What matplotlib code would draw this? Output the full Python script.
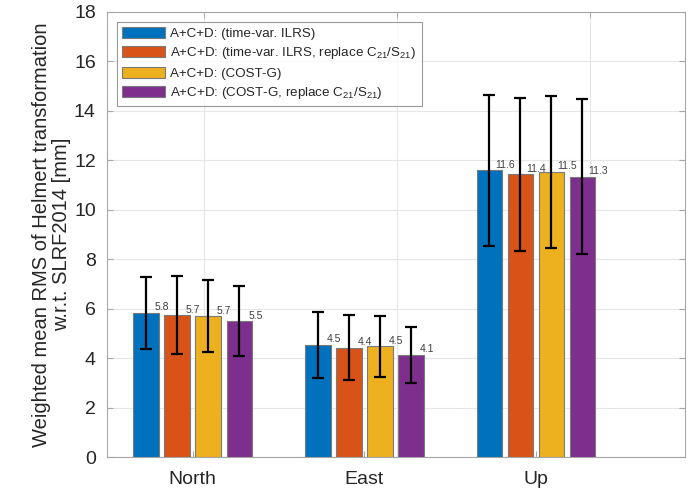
import matplotlib.pyplot as plt
import numpy as np

plt.rcParams['font.family'] = ['Liberation Sans', 'DejaVu Sans']
plt.rcParams['mathtext.fontset'] = 'custom'
plt.rcParams['mathtext.rm'] = 'Liberation Sans'
plt.rcParams['mathtext.it'] = 'Liberation Sans'

# Data
categories = ['North', 'East', 'Up']
series_names = ['A+C+D: (time-var. ILRS)',
                'A+C+D: (time-var. ILRS, replace C$_{21}$/S$_{21}$)',
                'A+C+D: (COST-G)',
                'A+C+D: (COST-G, replace C$_{21}$/S$_{21}$)']
ilrs = [5.83, 4.54, 11.60]
ilrs_c21 = [5.74, 4.42, 11.43]
costg = [5.69, 4.47, 11.53]
costg_c21 = [5.50, 4.13, 11.34]
ilrs_err = [1.47, 1.33, 3.06]
ilrs_c21_err = [1.58, 1.31, 3.10]
costg_err = [1.45, 1.24, 3.06]
costg_c21_err = [1.40, 1.13, 3.12]
colors = ['#0072BD', '#D95319', '#EDB120', '#7E2F8E']

values = [ilrs, ilrs_c21, costg, costg_c21]
errors = [ilrs_err, ilrs_c21_err, costg_err, costg_c21_err]

fig = plt.figure(figsize=(6.9, 4.88), dpi=100)
ax = fig.add_axes([0.155, 0.0635, 0.838, 0.912])

x = np.arange(1, len(categories) + 1)
step = 0.181
width = 0.149
for i in range(4):
    pos = x + (i - 1.5) * step
    ax.bar(pos, values[i], width, color=colors[i], edgecolor='#7a7a7a',
           linewidth=0.8, label=series_names[i], zorder=3)
    ax.errorbar(pos, values[i], yerr=errors[i], fmt='none', ecolor='black',
                elinewidth=1.6, capsize=4.5, capthick=1.6, zorder=4)
    for px, v in zip(pos, values[i]):
        ax.text(px + 0.093, v + 0.02, '%.1f' % v, ha='center', va='bottom',
                fontsize=7.5, color='#404040', zorder=5)

ax.set_xlim(0.5, 3.87)
ax.set_ylim(0, 18)
ax.set_yticks(np.arange(0, 19, 2))
ax.set_xticks(x)
ax.set_xticklabels(categories)
ax.set_xticks([1.064, 2.19, 3.315], minor=True)

ax.grid(axis='y', color='#e6e6e6', linewidth=0.8, zorder=0)
ax.grid(axis='x', which='minor', color='#e6e6e6', linewidth=0.8, zorder=0)
ax.set_axisbelow(True)

for s in ax.spines.values():
    s.set_color('#a6a6a6')
    s.set_linewidth(0.8)

ax.tick_params(axis='both', which='major', direction='in', length=4,
               color='#a6a6a6', labelsize=14, labelcolor='#262626',
               right=True)
ax.tick_params(axis='x', which='major', pad=10)
ax.tick_params(axis='y', which='major', labelsize=14, pad=8)
ax.tick_params(axis='x', which='minor', direction='in', length=4,
               color='#a6a6a6', bottom=False, top=True)

ax.set_ylabel('Weighted mean RMS of Helmert transformation\nw.r.t. SLRF2014 [mm]',
              fontsize=14.5, color='#262626', labelpad=2, linespacing=1.1)

leg = ax.legend(loc='upper left', fontsize=9.6, frameon=True, fancybox=False,
                edgecolor='#808080', handlelength=3.2, handleheight=0.9,
                borderpad=0.4, labelspacing=0.38, handletextpad=0.4,
                borderaxespad=0.75)
leg.get_frame().set_linewidth(0.8)
for t in leg.get_texts():
    t.set_color('#262626')

fig.savefig('out.png', dpi=100)
